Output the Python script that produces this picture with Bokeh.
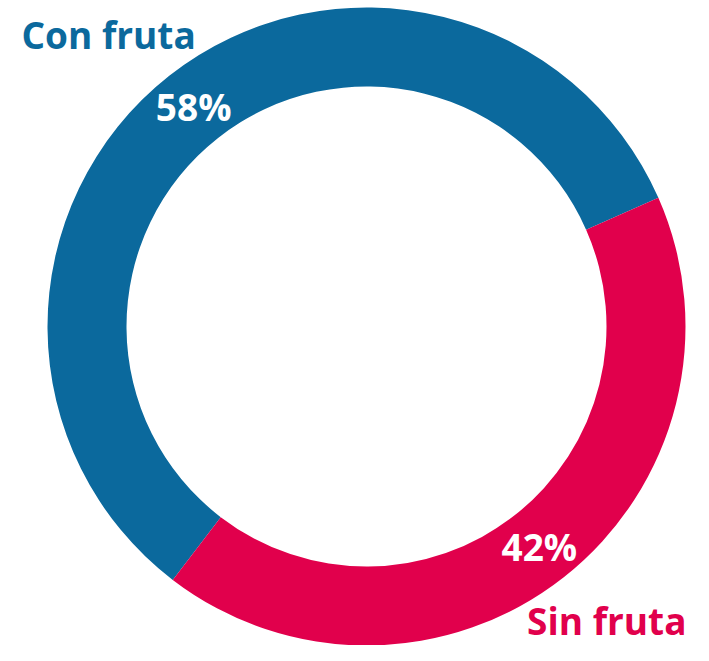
import numpy as np
from bokeh.plotting import figure
from bokeh.models import Range1d, ColumnDataSource, Label
from bokeh.core.properties import value
from bokeh.embed import file_html
from bokeh.resources import INLINE

categories = ["Con fruta", "Sin fruta"]
values = [58, 42]
colors = ["#0B699D", "#E1004C"]
pct_labels = ["58%", "42%"]

W, H = 693, 645
p = figure(width=W, height=H, output_backend="svg", toolbar_location=None,
           x_range=Range1d(0, W), y_range=Range1d(0, H),
           min_border=0, outline_line_color=None)
p.axis.visible = False
p.grid.visible = False
p.background_fill_color = None
p.border_fill_color = None

def sy(y):
    return H - y

cx, cy = 366, sy(326)
r_in, r_out = 240, 319
start0 = np.deg2rad(23.8)
frac = np.array(values) / sum(values)
ends = start0 + np.cumsum(frac) * 2 * np.pi
starts = ends - frac * 2 * np.pi
mid = (starts + ends) / 2
r_mid = (r_in + r_out) / 2

src = ColumnDataSource(dict(x=[cx] * 2, y=[cy] * 2, start=starts, end=ends, color=colors,
                            lx=cx + r_mid * np.cos(mid), ly=cy + r_mid * np.sin(mid), lab=pct_labels))
p.annular_wedge(x="x", y="y", inner_radius=r_in, outer_radius=r_out, inner_radius_units="screen",
                outer_radius_units="screen", start_angle="start", end_angle="end",
                fill_color="color", line_color=None, source=src)
p.text(x="lx", y="ly", text="lab", source=src, text_color="white", text_font=value("Open Sans"),
       text_font_style="bold", text_font_size="37px", text_align="center", text_baseline="middle")

p.add_layout(Label(x=21, y=sy(34), text=categories[0], text_color=colors[0], text_font="Open Sans",
                   text_font_style="bold", text_font_size="37px", text_align="left", text_baseline="middle"))
p.add_layout(Label(x=686, y=sy(620), text=categories[1], text_color=colors[1], text_font="Open Sans",
                   text_font_style="bold", text_font_size="37px", text_align="right", text_baseline="middle"))

open("out.html", "w").write(file_html(p, INLINE))
